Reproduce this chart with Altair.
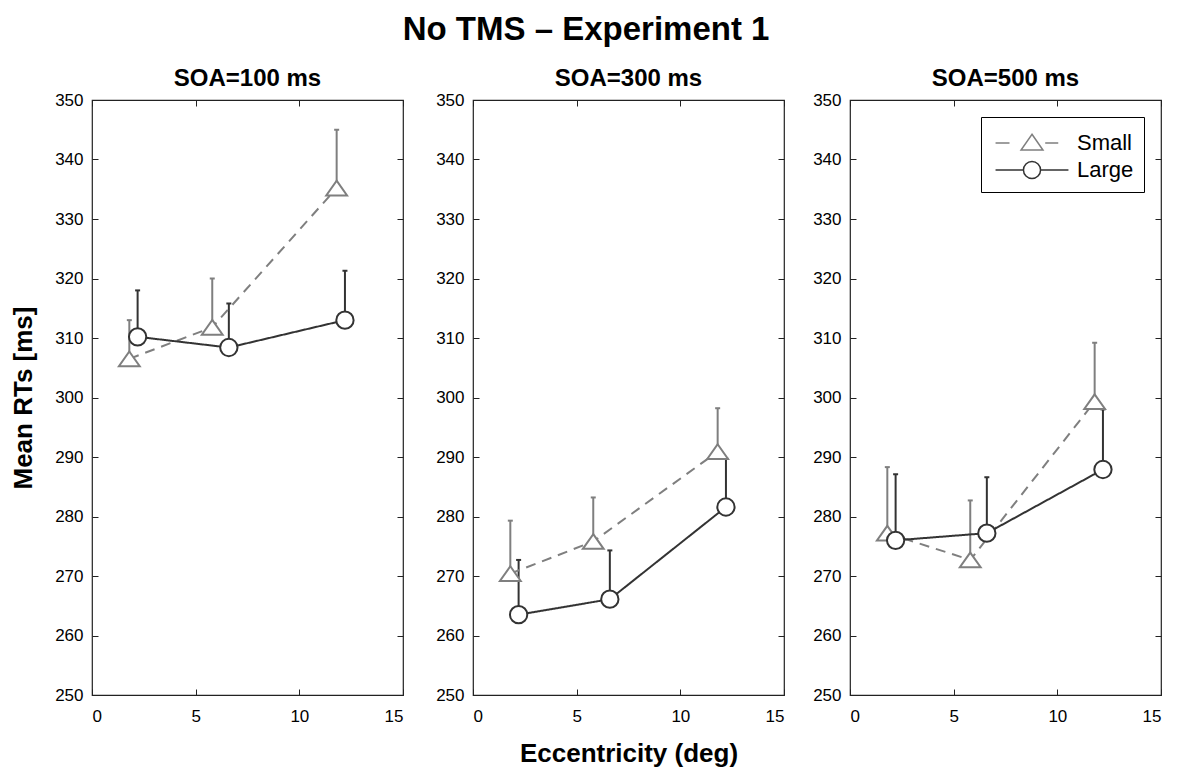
import altair as alt
import pandas as pd

# ---------------- data ----------------
soa_titles = ["SOA=100 ms", "SOA=300 ms", "SOA=500 ms"]
size_names = ["Small", "Large"]
ecc_small = [1.8, 5.8, 11.8]
ecc_large = [2.2, 6.6, 12.2]

small_rt_100 = [306.5, 311.8, 335.2]
small_err_100 = [6.5, 8.2, 9.8]
large_rt_100 = [310.2, 308.4, 313.0]
large_err_100 = [7.8, 7.4, 8.3]

small_rt_300 = [270.4, 275.8, 290.9]
small_err_300 = [8.9, 7.4, 7.3]
large_rt_300 = [263.5, 266.1, 281.6]
large_err_300 = [9.2, 8.2, 8.1]

small_rt_500 = [277.2, 272.7, 299.3]
small_err_500 = [11.1, 10.0, 9.9]
large_rt_500 = [276.0, 277.2, 287.9]
large_err_500 = [11.1, 9.4, 10.1]

x_ticks = [0, 5, 10, 15]
y_ticks = [250, 260, 270, 280, 290, 300, 310, 320, 330, 340, 350]

# ---------------- style ----------------
FONT = "Liberation Sans"
GRAY = "#7f7f7f"
DARK = "#333333"
PW, PH = 311, 595

TRI_PATH = "M0,-0.85L1.2,0.85L-1.2,0.85Z"
SMALL_PATH = ("M-2.43,0H-1.5M0.88,0H1.75"
              "M0,-0.58L0.73,0.47L-0.73,0.47Z")
LARGE_PATH = ("M-2.43,0H-0.57M0.57,0H2.43"
              "M0.57,0A0.57,0.57 0 1,1 -0.57,0A0.57,0.57 0 1,1 0.57,0Z")


def frame(s_rt, s_err, l_rt, l_err):
    rows = []
    for name, ecc, rt, err in [("Small", ecc_small, s_rt, s_err),
                               ("Large", ecc_large, l_rt, l_err)]:
        for e, r, s in zip(ecc, rt, err):
            rows.append({"size": name, "ecc": e, "rt": r, "hi": r + s})
    return pd.DataFrame(rows)


def panel(df, title, y_title, x_title, show_legend):
    xsc = alt.Scale(domain=[0, 15], nice=False, zero=False)
    ysc = alt.Scale(domain=[250, 350], nice=False, zero=False)

    def stroke(legend=None):
        if legend is None:
            return alt.Stroke("size:N", scale=alt.Scale(domain=size_names, range=[GRAY, DARK]), legend=None)
        return alt.Stroke("size:N", scale=alt.Scale(domain=size_names, range=[GRAY, DARK]), legend=legend)

    common = dict(offset=-6, tickSize=6, domain=False, grid=False, tickColor="#222222",
                  tickWidth=1, labelFont=FONT, labelFontSize=17, labelColor="black",
                  titleFont=FONT, titleFontSize=26, titleFontWeight="bold", titleColor="black")
    bottom_axis = alt.Axis(orient="bottom", values=x_ticks, labelPadding=13,
                           titlePadding=16, title=x_title, **common)
    left_axis = alt.Axis(orient="left", values=y_ticks, labelPadding=9,
                         titlePadding=18, title=y_title, **common)
    top_axis = alt.Axis(orient="top", values=x_ticks, labels=False, title=None, **common)
    right_axis = alt.Axis(orient="right", values=y_ticks, labels=False, title=None, **common)

    base = alt.Chart(df)
    rules = base.mark_rule(strokeWidth=2).encode(
        x=alt.X("ecc:Q", scale=xsc, axis=bottom_axis),
        y=alt.Y("rt:Q", scale=ysc, axis=left_axis),
        y2="hi:Q",
        stroke=stroke(),
    )
    caps = base.mark_tick(orient="horizontal", size=5, thickness=2, opacity=1).encode(
        x=alt.X("ecc:Q", scale=xsc, axis=top_axis),
        y=alt.Y("hi:Q", scale=ysc, axis=right_axis),
        color=alt.Color("size:N", scale=alt.Scale(domain=size_names, range=[GRAY, DARK]), legend=None),
    )
    lines = base.mark_line(strokeWidth=2).encode(
        x=alt.X("ecc:Q", scale=xsc, axis=None),
        y=alt.Y("rt:Q", scale=ysc, axis=None),
        stroke=stroke(),
        strokeDash=alt.StrokeDash("size:N", scale=alt.Scale(domain=size_names, range=[[10, 7], [1, 0]]), legend=None),
    )
    points = base.mark_point(filled=True, fill="white", size=300, strokeWidth=2, opacity=1).encode(
        x=alt.X("ecc:Q", scale=xsc, axis=None),
        y=alt.Y("rt:Q", scale=ysc, axis=None),
        stroke=stroke(),
        shape=alt.Shape("size:N", scale=alt.Scale(domain=size_names, range=[TRI_PATH, "circle"]), legend=None),
    )
    layers = [rules, caps, lines, points]
    if show_legend:
        leg = dict(title=None, orient="top-right", offset=17, padding=10,
                   strokeColor="black", fillColor="white", cornerRadius=0,
                   labelFont=FONT, labelFontSize=22, labelColor="black",
                   labelExpr="datum.label + '    '",
                   symbolSize=900, symbolStrokeWidth=1.5, symbolFillColor="white",
                   symbolOffset=25, labelOffset=29, rowPadding=0)
        legend_layer = base.transform_filter("false").mark_point(
            filled=True, fill="white", strokeWidth=1.5, opacity=1).encode(
            x=alt.X("ecc:Q", scale=xsc, axis=None),
            y=alt.Y("rt:Q", scale=ysc, axis=None),
            stroke=stroke(alt.Legend(**leg)),
            shape=alt.Shape("size:N", scale=alt.Scale(domain=size_names, range=[SMALL_PATH, LARGE_PATH]),
                            legend=alt.Legend(**leg)),
        )
        layers.append(legend_layer)

    return alt.layer(*layers).resolve_scale(
        shape="independent", stroke="independent"
    ).resolve_axis(x="independent", y="independent").properties(
        width=PW, height=PH,
        title=alt.TitleParams(title, font=FONT, fontSize=24, fontWeight="bold",
                              color="black", offset=0),
    )


p1 = panel(frame(small_rt_100, small_err_100, large_rt_100, large_err_100),
           soa_titles[0], "Mean RTs [ms]", None, False)
p2 = panel(frame(small_rt_300, small_err_300, large_rt_300, large_err_300),
           soa_titles[1], None, "Eccentricity (deg)", False)
p3 = panel(frame(small_rt_500, small_err_500, large_rt_500, large_err_500),
           soa_titles[2], None, None, True)

chart = alt.hconcat(alt.hconcat(p1, p2, spacing=30), p3, spacing=26).properties(
    title=alt.TitleParams("No TMS – Experiment 1", font=FONT, fontSize=33,
                          fontWeight="bold", color="black", anchor="middle", offset=19),
    padding={"left": 2, "top": 6, "right": 5, "bottom": 5},
).configure_view(stroke="#222222", strokeWidth=1.2)

chart.save("out.html", embed_options={"renderer": "svg", "actions": False})
